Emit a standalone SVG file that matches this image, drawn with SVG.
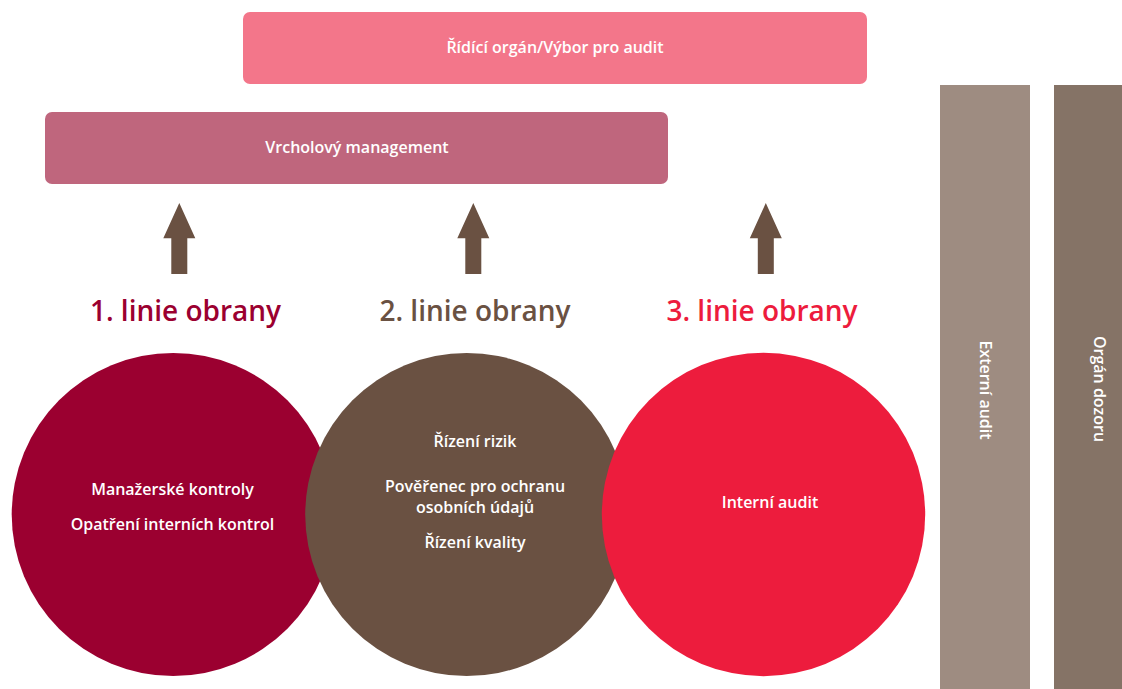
<svg xmlns="http://www.w3.org/2000/svg" width="1122" height="689" viewBox="0 0 1122 689">
<style>
.lbl{font-family:"Open Sans","Liberation Sans",sans-serif;font-weight:600;font-size:16px;fill:#ffffff;text-anchor:middle}
.hd{font-family:"Open Sans","Liberation Sans",sans-serif;font-weight:600;font-size:28px;text-anchor:middle}
.arrow{fill:#6a5142}
</style>
<rect width="1122" height="689" fill="#ffffff"/>
<g id="ridici-organ">
<rect x="243" y="12" width="624" height="72" rx="7" fill="#f3768a"/>
<text class="lbl" x="555" y="53">Řídící orgán/Výbor pro audit</text>
</g>
<g id="vrcholovy-management">
<rect x="45" y="112" width="623" height="72" rx="7" fill="#bf667d"/>
<text class="lbl" x="357" y="153">Vrcholový management</text>
</g>
<g id="externi-audit">
<rect x="940" y="85" width="90" height="604" fill="#9e8c81"/>
<text class="lbl" transform="translate(980,390) rotate(90)" x="0" y="0">Externí audit</text>
</g>
<g id="organ-dozoru">
<rect x="1054" y="85" width="68" height="604" fill="#857366"/>
<text class="lbl" transform="translate(1094,389) rotate(90)" x="0" y="0">Orgán dozoru</text>
</g>
<g id="connectors">
<polygon class="arrow" points="179.3,203 195.3,238.3 187.3,238.3 187.3,274 171.3,274 171.3,238.3 163.3,238.3"/>
<polygon class="arrow" points="473.3,203 489.3,238.3 481.3,238.3 481.3,274 465.3,274 465.3,238.3 457.3,238.3"/>
<polygon class="arrow" points="765.8,203 781.8,238.3 773.8,238.3 773.8,274 757.8,274 757.8,238.3 749.8,238.3"/>
</g>
<g id="heading-1"><text class="hd" x="185.5" y="321" fill="#9b0030">1. linie obrany</text></g>
<g id="heading-2"><text class="hd" x="475" y="321" fill="#6a5142">2. linie obrany</text></g>
<g id="heading-3"><text class="hd" x="762" y="321" fill="#ed1c3d">3. linie obrany</text></g>
<g id="linie-1">
<circle cx="173.2" cy="514.5" r="161.5" fill="#9b0030"/>
<text class="lbl" x="172.5" y="495">Manažerské kontroly</text>
<text class="lbl" x="172.5" y="530">Opatření interních kontrol</text>
</g>
<g id="linie-2">
<circle cx="466.7" cy="514.5" r="161.5" fill="#6a5142"/>
<text class="lbl" x="475" y="446.5">Řízení rizik</text>
<text class="lbl" x="475" y="491.5">Pověřenec pro ochranu</text>
<text class="lbl" x="475" y="513">osobních údajů</text>
<text class="lbl" x="475" y="547.5">Řízení kvality</text>
</g>
<g id="linie-3">
<circle cx="763.5" cy="514.5" r="161.7" fill="#ed1c3d"/>
<text class="lbl" x="770" y="507.5">Interní audit</text>
</g>
</svg>
